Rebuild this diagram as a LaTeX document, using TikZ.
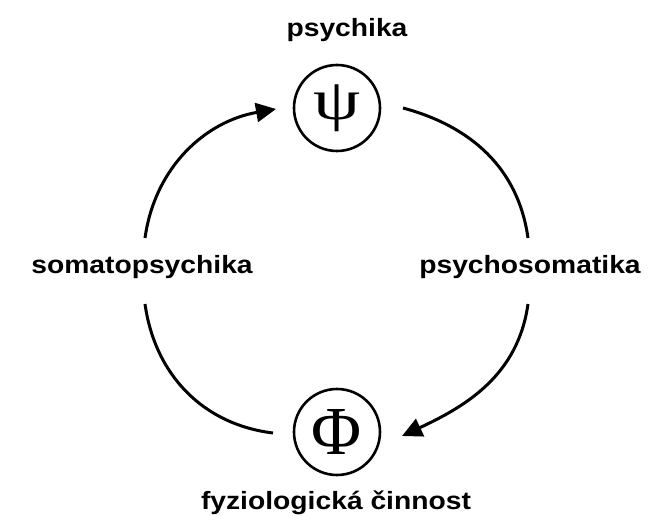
\documentclass[tikz,border=0pt]{standalone}
\usepackage{fontspec}
\usepackage{graphicx}
\setmainfont{Liberation Sans}
\newfontfamily\labfont{Liberation Sans}[FakeStretch=1.13]
\newfontfamily\grkfont{Liberation Serif}
\usetikzlibrary{arrows.meta}
\tikzset{
  lab/.style={font=\labfont\bfseries\fontsize{25}{30}\selectfont, anchor=base, inner sep=0pt},
  ring/.style={draw, circle, line width=2.6pt, minimum size=86pt, inner sep=0pt},
  arc/.style={line width=3pt},
  arr/.style={arc, -{Triangle[length=20pt,width=19pt]}}
}
\begin{document}
\begin{tikzpicture}[x=1pt,y=1pt]
\useasboundingbox (0,0) rectangle (657,515);
\node[ring] (psi) at (337,407) {\resizebox*{47pt}{47pt}{\grkfont ψ}};
\node[ring] (phi) at (337,83) {\resizebox*{50pt}{45pt}{\grkfont Φ}};
\node[lab] (tpsy) at (347,478) {psychika};
\node[lab] (somato) at (142,241) {somatopsychika};
\node[lab] (psysom) at (530,241) {psychosomatika};
\node[lab] (fyz) at (336,6) {fyziologická činnost};
\coordinate (ula) at (145,277);
\coordinate (ulb) at (276,406);
\coordinate (lla) at (145,211);
\coordinate (llb) at (273,82);
\coordinate (ura) at (403,407);
\coordinate (urb) at (528,277);
\coordinate (lra) at (528,211);
\coordinate (lrb) at (402,79);
\draw[arr] (ula) to[out=82,in=190] (ulb);
\draw[arc] (lla) to[out=-82,in=173] (llb);
\draw[arc] (ura) to[out=-15,in=98] (urb);
\draw[arr] (lra) to[out=-98,in=25] (lrb);
\end{tikzpicture}
\end{document}
